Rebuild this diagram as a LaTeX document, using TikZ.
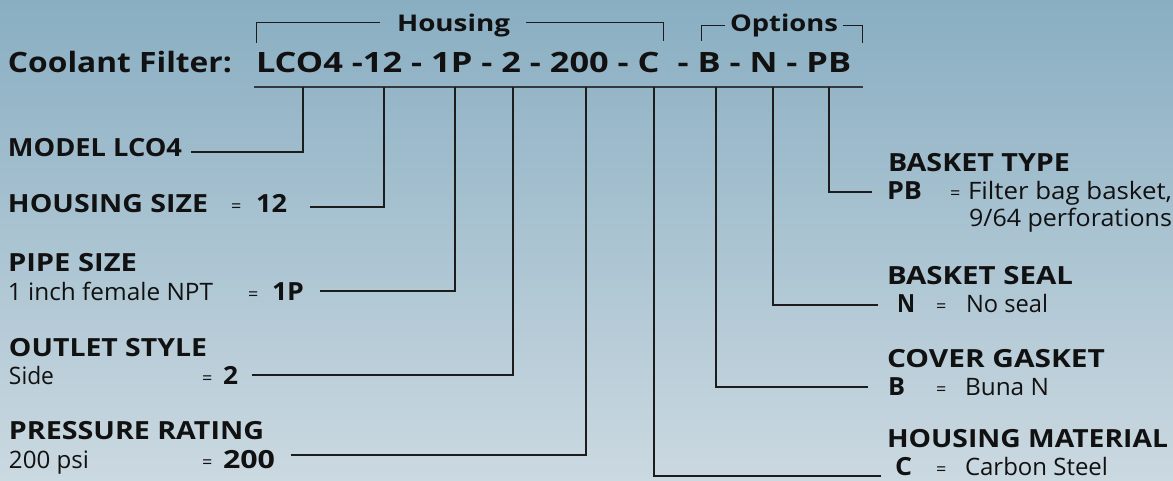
\documentclass[tikz,border=0pt]{standalone}
\usepackage{fontspec}
\setmainfont{Open Sans}
\usepackage{graphicx}
\newcommand{\fw}[2]{\resizebox{#1pt}{\height}{#2}}
\definecolor{ink}{HTML}{111111}
\definecolor{bgtop}{RGB}{137,174,194}
\definecolor{bgbot}{RGB}{203,217,225}
\definecolor{ln}{HTML}{1C1C1C}
\definecolor{ul}{HTML}{33393E}
\tikzset{
  lbl/.style={inner sep=0pt, outer sep=0pt, anchor=base west, text=ink},
  big/.style={lbl, font=\bfseries\fontsize{28}{32}\selectfont},
  sub/.style={lbl, font=\bfseries\fontsize{23}{28}\selectfont},
  ttl/.style={lbl, font=\bfseries\fontsize{25}{30}\selectfont},
  val/.style={lbl, font=\bfseries\fontsize{25}{30}\selectfont},
  txt/.style={lbl, font=\fontsize{24}{28}\selectfont},
  eq/.style={lbl, font=\fontsize{18}{22}\selectfont},
  conn/.style={draw=ln, line width=1.2pt},
  brk/.style={draw=ln, line width=1pt},
  uline/.style={draw=ul, line width=2pt}
}
\begin{document}
\begin{tikzpicture}[x=1pt,y=-1pt]
\useasboundingbox (0,0) rectangle (1173,481);
\shade[top color=bgtop, bottom color=bgbot] (0,0) rectangle (1173,481);

% heading
\node[big] (cf) at (8,73) {\fw{224}{Coolant Filter:}};
\node[big] (code) at (256,73) {\fw{595}{LCO4 -12 - 1P - 2 - 200 - C\ \ - B - N - PB}};
\node[sub] (hs) at (397,32) {\fw{113}{Housing}};
\node[sub] (op) at (730,32) {\fw{108}{Options}};

% brackets
\coordinate (hA) at (256,43); \coordinate (hB) at (380,23);
\coordinate (hC) at (526,23); \coordinate (hD) at (663,41);
\coordinate (oA) at (701,41); \coordinate (oB) at (725,26);
\coordinate (oC) at (843,26); \coordinate (oD) at (862,43);
\draw[brk] (hA) |- (hB);
\draw[brk] (hC) -| (hD);
\draw[brk] (oA) |- (oB);
\draw[brk] (oC) -| (oD);

% underline
\coordinate (uL) at (254,87); \coordinate (uR) at (863,87);
\draw[uline] (uL) -- (uR);

% ticks on underline
\coordinate (t1) at (303,87);
\coordinate (t2) at (384,87);
\coordinate (t3) at (455,87);
\coordinate (t4) at (513,87);
\coordinate (t5) at (586,87);
\coordinate (t6) at (654,87);
\coordinate (t7) at (716,87);
\coordinate (t8) at (773,87);
\coordinate (t9) at (829,87);

% left labels
\node[ttl] (l1) at (8,157) {\fw{174}{MODEL LCO4}};
\node[ttl] (l2) at (8,213) {\fw{200}{HOUSING SIZE}};
\node[eq]  (l2e) at (231,213) {=};
\node[val] (l2v) at (256,213) {\fw{31}{12}};
\node[ttl] (l3) at (8,271) {\fw{129}{PIPE SIZE}};
\node[txt] (l3t) at (8,300) {\fw{205}{1 inch female NPT}};
\node[eq]  (l3e) at (248,300) {=};
\node[val] (l3v) at (272,300) {\fw{32}{1P}};
\node[ttl] (l4) at (9,356) {\fw{198}{OUTLET STYLE}};
\node[txt] (l4t) at (9,384) {\fw{45}{Side}};
\node[eq]  (l4e) at (202,384) {=};
\node[val] (l4v) at (223,384) {\fw{15}{2}};
\node[ttl] (l5) at (9,439) {\fw{255}{PRESSURE RATING}};
\node[txt] (l5t) at (9,468) {\fw{80}{200 psi}};
\node[eq]  (l5e) at (202,468) {=};
\node[val] (l5v) at (223,468) {\fw{52}{200}};

% right labels
\node[ttl] (r1) at (888,172) {\fw{182}{BASKET TYPE}};
\node[val] (r1v) at (887,200) {\fw{35}{PB}};
\node[eq]  (r1e) at (950,200) {=};
\node[txt] (r1t) at (968,200) {\fw{204}{Filter bag basket,}};
\node[txt] (r1u) at (969,227) {\fw{203}{9/64 perforations}};
\node[ttl] (r2) at (887,284) {\fw{186}{BASKET SEAL}};
\node[val] (r2v) at (897,312) {\fw{18}{N}};
\node[eq]  (r2e) at (936,312) {=};
\node[txt] (r2t) at (966,312) {\fw{82}{No seal}};
\node[ttl] (r3) at (887,367) {\fw{218}{COVER GASKET}};
\node[val] (r3v) at (888,395) {\fw{17}{B}};
\node[eq]  (r3e) at (936,395) {=};
\node[txt] (r3t) at (965,395) {\fw{84}{Buna N}};
\node[ttl] (r4) at (887,447) {\fw{281}{HOUSING MATERIAL}};
\node[val] (r4v) at (895,475) {\fw{17}{C}};
\node[eq]  (r4e) at (936,475) {=};
\node[txt] (r4t) at (965,475) {\fw{143}{Carbon Steel}};

% connector ends
\coordinate (e1) at (191,152);
\coordinate (e2) at (310,207);
\coordinate (e3) at (320,291);
\coordinate (e4) at (252,375);
\coordinate (e5) at (291,455);
\coordinate (e6) at (881,476);
\coordinate (e7) at (868,387);
\coordinate (e8) at (878,305);
\coordinate (e9) at (872,192);

\draw[conn] (e1) -| (t1);
\draw[conn] (e2) -| (t2);
\draw[conn] (e3) -| (t3);
\draw[conn] (e4) -| (t4);
\draw[conn] (e5) -| (t5);
\draw[conn] (e6) -| (t6);
\draw[conn] (e7) -| (t7);
\draw[conn] (e8) -| (t8);
\draw[conn] (e9) -| (t9);
\end{tikzpicture}
\end{document}
